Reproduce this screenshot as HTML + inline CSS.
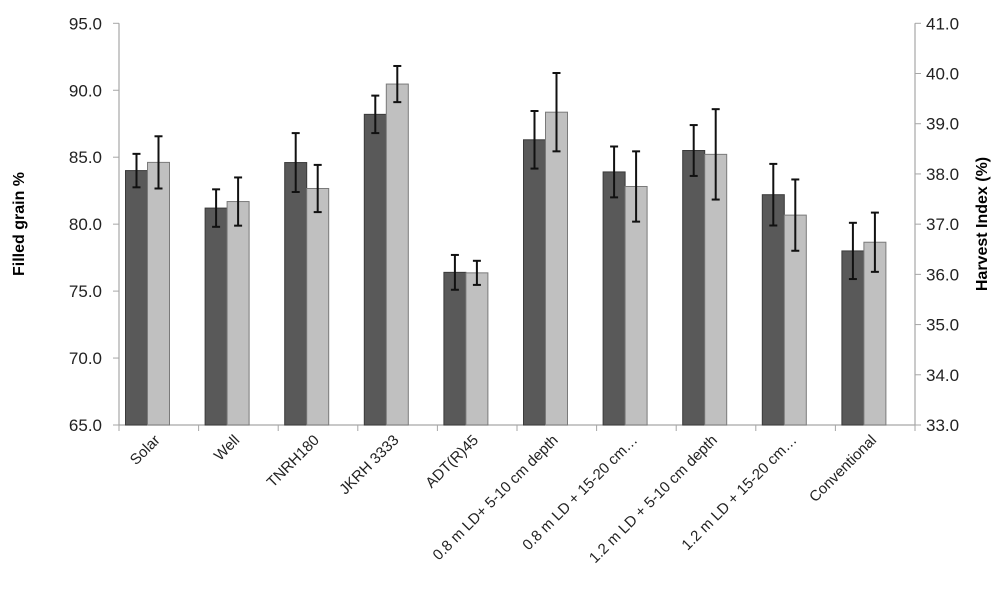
<!DOCTYPE html>
<html><head><meta charset="utf-8"><style>
body{margin:0;background:#fff;}
svg{display:block;font-family:"Liberation Sans",Arial,sans-serif;}
</style></head><body>
<svg id="chart" width="1000" height="615" viewBox="0 0 1000 615">
<g id="axes"></g><g id="bars"></g><g id="labels"></g>
<text transform="translate(24,224) rotate(-90)" text-anchor="middle" font-size="16" font-weight="bold" fill="#000">Filled grain %</text>
<text transform="translate(987,224) rotate(-90)" text-anchor="middle" font-size="16" font-weight="bold" fill="#000">Harvest Index (%)</text>
</svg>
<script>
const categories=["Solar","Well","TNRH180","JKRH 3333","ADT(R)45","0.8 m LD+ 5-10 cm depth","0.8 m LD + 15-20 cm…","1.2 m LD + 5-10 cm depth","1.2 m LD + 15-20 cm…","Conventional"];
const filledGrain=[84.0,81.2,84.6,88.2,76.4,86.3,83.9,85.5,82.2,78.0];
const filledGrainErr=[1.25,1.4,2.2,1.4,1.3,2.15,1.9,1.9,2.3,2.1];
const harvestIndex=[38.23,37.45,37.71,39.79,36.03,39.23,37.75,38.39,37.18,36.64];
const harvestIndexErr=[0.52,0.48,0.47,0.36,0.24,0.78,0.7,0.9,0.71,0.59];
const leftTicks=[65,70,75,80,85,90,95];
const rightTicks=[33,34,35,36,37,38,39,40,41];

const NS="http://www.w3.org/2000/svg";
const X0=119,X1=915,YT=23.3,YB=425;
const yL=v=>YB-(v-65)/30*(YB-YT);
const yR=v=>YB-(v-33)/8*(YB-YT);
const gw=(X1-X0)/categories.length;
const gx=i=>X0+i*gw;
function el(tag,attrs,parent){const e=document.createElementNS(NS,tag);for(const k in attrs)e.setAttribute(k,attrs[k]);parent.appendChild(e);return e;}
const axes=document.getElementById('axes'),bars=document.getElementById('bars'),labels=document.getElementById('labels');
let a;
a=el('line',{x1:X0,y1:YT,x2:X0,y2:YB,stroke:'#a6a6a6','stroke-width':1.2},axes);

a=el('line',{x1:X1,y1:YT,x2:X1,y2:YB,stroke:'#a6a6a6','stroke-width':1.2},axes);

a=el('line',{x1:X0,y1:YB,x2:X1,y2:YB,stroke:'#a6a6a6','stroke-width':1.2},axes);

leftTicks.forEach(v=>{const y=yL(v);
 el('line',{x1:X0-6,y1:y,x2:X0,y2:y,stroke:'#a6a6a6'},axes);
 const t=el('text',{x:102,y:y+6,'text-anchor':'end','font-size':17,fill:'#222'},axes);t.textContent=v.toFixed(1);
 });
rightTicks.forEach(v=>{const y=yR(v);
 el('line',{x1:X1,y1:y,x2:X1+6,y2:y,stroke:'#a6a6a6'},axes);
 const t=el('text',{x:926,y:y+6,'font-size':17,fill:'#222'},axes);t.textContent=v.toFixed(1);
 });
for(let i=0;i<=categories.length;i++){el('line',{x1:gx(i),y1:YB,x2:gx(i),y2:YB+6,stroke:'#a6a6a6'},axes);}
function errBar(x,yc,yt,yb){
 const g=el('g',{stroke:'#111','stroke-width':2},bars);
 
 el('line',{x1:x,y1:yt,x2:x,y2:yb},g);el('line',{x1:x-4,y1:yt,x2:x+4,y2:yt},g);el('line',{x1:x-4,y1:yb,x2:x+4,y2:yb},g);}
categories.forEach((c,i)=>{
 const xs=gx(i)+6.5,bw=22;
 const y1=yL(filledGrain[i]);
 const r1=el('rect',{x:xs,y:y1,width:bw,height:YB-y1,fill:'#595959',stroke:'#3a3a3a','stroke-width':1},bars);
 
 const y2=yR(harvestIndex[i]);
 const r2=el('rect',{x:xs+bw,y:y2,width:bw,height:YB-y2,fill:'#c0c0c0',stroke:'#7a7a7a','stroke-width':1},bars);
 
 errBar(xs+bw/2,y1,yL(filledGrain[i]+filledGrainErr[i]),yL(filledGrain[i]-filledGrainErr[i]));
 errBar(xs+bw*1.5,y2,yR(harvestIndex[i]+harvestIndexErr[i]),yR(harvestIndex[i]-harvestIndexErr[i]));
 const cx=gx(i)+gw/2+2,cy=441;
 const t=el('text',{x:cx,y:cy,'text-anchor':'end','font-size':15,fill:'#222',transform:`rotate(-45 ${cx} ${cy})`},labels);
 t.textContent=c;
 
});
</script>
</body></html>
